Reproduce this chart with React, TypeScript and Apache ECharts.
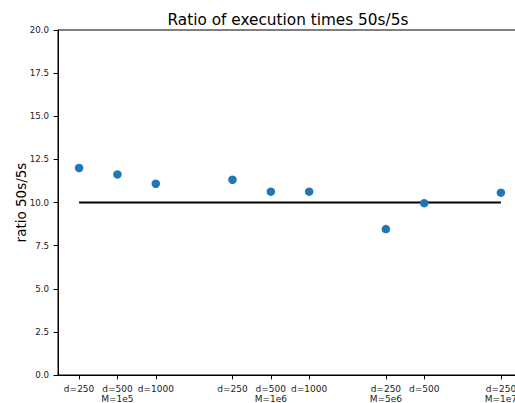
import React, { useEffect, useRef } from "react";
import * as echarts from "echarts";

const xPositions = [0, 1, 2, 4, 5, 6, 8, 9, 11];
const xTickLabels = [
  "d=250",
  "d=500\nM=1e5",
  "d=1000",
  "d=250",
  "d=500\nM=1e6",
  "d=1000",
  "d=250\nM=5e6",
  "d=500",
  "d=250\nM=1e7",
];
const ratios = [12.0, 11.63, 11.09, 11.32, 10.63, 10.63, 8.46, 9.96, 10.57];
const refLineX = [0, 11];
const refLineY = [10, 10];
const yMin = 0;
const yMax = 20;
const yStep = 2.5;

const FONT = "DejaVu Sans";

export default function App() {
  const ref = useRef<HTMLDivElement>(null);
  useEffect(() => {
    if (!ref.current) return;
    document.documentElement.style.overflow = "hidden";
    document.body.style.overflow = "hidden";
    const chart = echarts.init(ref.current, undefined, { renderer: "svg" });
    const labelFor = (v: number) => {
      const i = xPositions.indexOf(Math.round(v));
      return i >= 0 && Math.abs(v - xPositions[i]) < 1e-6 ? xTickLabels[i] : "";
    };
    chart.setOption({
      animation: false,
      backgroundColor: "#fff",
      title: {
        text: "Ratio of execution times 50s/5s",
        left: 283,
        textAlign: "center",
        top: 7,
        textStyle: { fontFamily: FONT, fontSize: 15.3, fontWeight: "normal", color: "#000" },
      },
      grid: {
        left: 58,
        top: 30,
        width: 464,
        height: 345,
        show: true,
        borderColor: "#000",
        borderWidth: 1,
        backgroundColor: "transparent",
        outerBoundsMode: "none",
        containLabel: false,
      },
      xAxis: {
        type: "value",
        min: -0.55,
        max: 11.55,
        splitLine: { show: false },
        axisLine: { show: true, onZero: false, lineStyle: { color: "#000", width: 1 } },
        axisTick: {
          show: true,
          customValues: xPositions,
          length: 4.4,
          lineStyle: { color: "#000", width: 1 },
        },
        axisLabel: {
          customValues: xPositions,
          formatter: (v: number) => labelFor(v),
          fontFamily: FONT,
          fontSize: 9,
          lineHeight: 10,
          color: "#222",
          margin: 9,
        },
      },
      yAxis: {
        type: "value",
        min: yMin,
        max: yMax,
        interval: yStep,
        name: "ratio 50s/5s",
        nameLocation: "middle",
        nameGap: 30,
        nameMoveOverlap: false,
        nameTextStyle: { fontFamily: FONT, fontSize: 13.5, color: "#000" },
        splitLine: { show: false },
        axisLine: { show: true, onZero: false, lineStyle: { color: "#000", width: 1 } },
        axisTick: { show: true, length: 4.4, lineStyle: { color: "#000", width: 1 } },
        axisLabel: {
          formatter: (v: number) => v.toFixed(1),
          fontFamily: FONT,
          fontSize: 8.7,
          color: "#222",
          margin: 9,
        },
      },
      series: [
        {
          type: "line",
          data: refLineX.map((x, i) => [x, refLineY[i]]),
          showSymbol: false,
          symbol: "none",
          lineStyle: { color: "#000", width: 2 },
          z: 2,
        },
        {
          type: "scatter",
          data: xPositions.map((x, i) => [x, ratios[i]]),
          symbolSize: 8.5,
          itemStyle: { color: "#1f77b4", opacity: 1 },
          z: 3,
        },
      ],
    });
    return () => chart.dispose();
  }, []);
  return (
    <div
      ref={ref}
      style={{ position: "fixed", left: 0, top: 0, width: 540, height: 403 }}
    />
  );
}
